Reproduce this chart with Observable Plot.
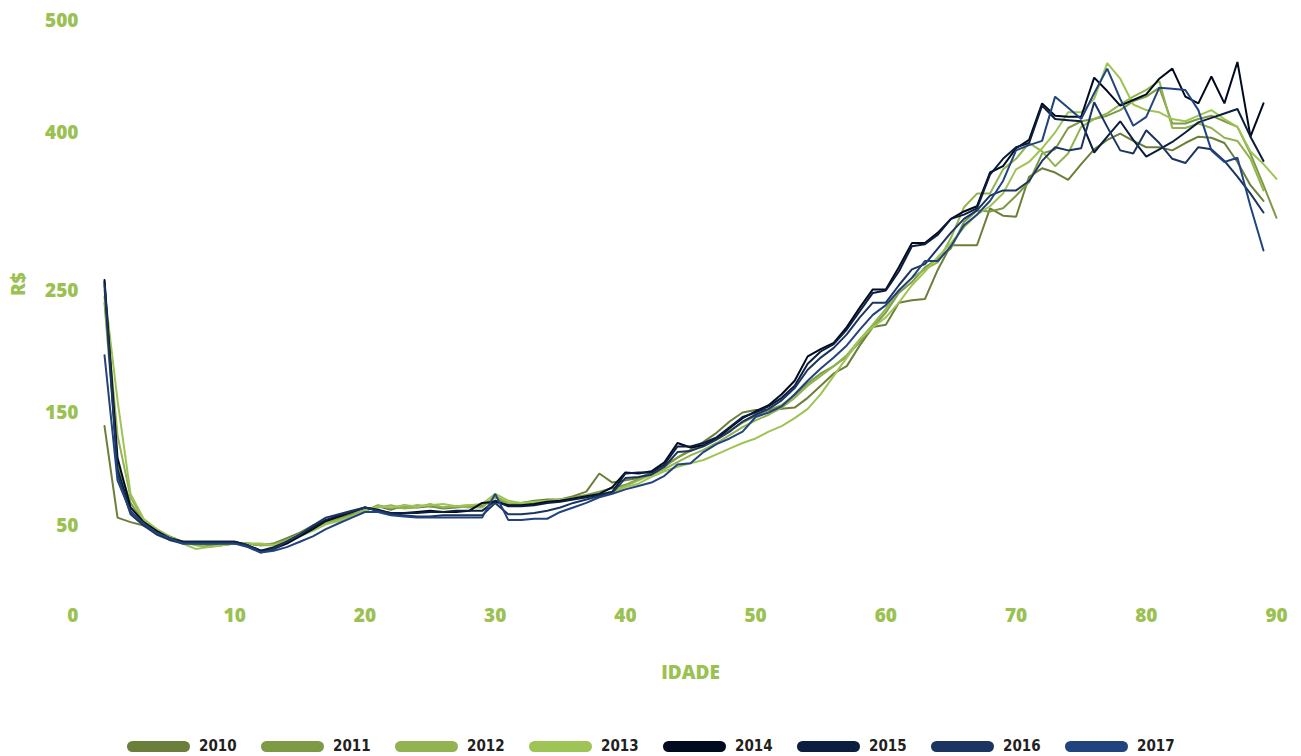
<!DOCTYPE html>
<html>
<head>
<meta charset="utf-8">
<script src="https://cdn.jsdelivr.net/npm/d3@7"></script>
<script src="https://cdn.jsdelivr.net/npm/@observablehq/plot@0.6"></script>
<style>
  html, body { margin: 0; padding: 0; background: #ffffff; }
  #chart svg { display: block; }
  #legend {
    position: relative; height: 56px; width: 1301px;
    font-family: "DejaVu Sans Condensed", "Liberation Sans Narrow", "Roboto", sans-serif;
    font-weight: bold; font-size: 15px; color: #231f20;
  }
  .item { position: absolute; top: 38px; display: flex; align-items: center; height: 16px; }
  .pill { width: 63px; height: 11px; border-radius: 6px; margin-right: 9px; }
</style>
</head>
<body>
<div id="chart"></div>
<div id="legend"></div>
<script>
const years = ["2010", "2011", "2012", "2013", "2014", "2015", "2016", "2017"];
const colors = ["#6B7F3A", "#7F9A45", "#92B350", "#9EC455", "#000A1E", "#0B1E3F", "#1C3560", "#21447F"];
const xTicks = [10, 20, 30, 40, 50, 60, 70, 80, 90];
const yTicks = [0, 50, 150, 250, 400, 500];
// relative vertical position of each y tick on the (non-uniform) original axis, 0..500
const yTickHeights = [0, 75.6, 170.6, 273.1, 405.9, 500];

// Values by age (index = age in years), R$
const v2010 = [138,57,53,50,46,42,41,40,40,40,40,
  40,39,40,43,46,50,54,57,60,63,
  67,64,68,66,67,65,66,67,68,72,
  69,70,72,73,73,76,80,96,88,90,
  92,97,103,110,117,124,132,142,150,152,
  152,153,154,162,172,182,188,205,220,222,
  240,242,243,270,293,293,293,328,321,320,
  358,366,362,355,370,384,393,399,392,386,
  386,383,390,396,395,390,372,350,335];
const v2011 = [240,105,70,53,47,44,41,40,39,39,40,
  40,39,40,42,45,49,53,56,59,63,
  68,65,66,68,67,66,67,68,67,75,
  69,68,70,71,73,75,77,80,83,86,
  91,96,102,110,116,121,127,134,141,147,
  152,156,164,174,182,188,196,208,220,232,
  248,258,272,280,290,315,326,325,328,340,
  353,380,384,404,410,412,415,420,428,432,
  440,408,408,412,415,410,405,380,350,319];
const v2012 = [245,130,75,55,48,44,41,39,38,39,40,
  40,39,39,42,45,48,52,55,59,64,
  66,68,65,66,69,66,67,66,66,76,
  70,69,70,71,72,74,76,78,80,85,
  90,95,100,106,112,117,123,130,137,143,
  148,154,162,172,180,188,197,210,222,235,
  250,262,270,277,300,329,342,342,365,375,
  390,382,368,380,405,412,417,425,432,438,
  446,404,404,408,404,395,392,375,345];
const v2013 = [250,160,78,56,48,43,40,37,38,39,40,
  40,40,39,41,44,47,51,54,58,63,
  67,66,68,67,68,69,67,68,69,78,
  72,70,71,72,73,74,75,77,79,84,
  87,93,98,102,105,108,113,118,123,127,
  133,138,145,153,165,180,195,210,220,228,
  240,255,268,282,295,310,322,330,342,365,
  372,385,400,418,418,430,462,448,425,420,
  418,412,410,415,420,412,405,382,370,356];
const v2014 = [260,110,66,53,47,43,41,41,41,41,41,
  39,36,37,40,44,48,54,58,62,66,
  64,61,61,62,63,62,62,63,70,71,
  68,68,69,71,72,74,76,78,84,97,
  96,98,106,123,119,121,127,136,145,151,
  156,165,176,196,202,207,220,236,251,251,
  272,295,295,305,318,325,330,362,368,385,
  393,426,415,414,414,449,437,424,429,434,
  448,457,432,426,450,426,463,396,426];
const v2015 = [258,100,63,51,46,43,41,41,41,41,41,
  39,36,38,41,45,49,55,59,62,66,
  63,61,61,61,62,62,63,63,63,72,
  67,67,68,70,71,73,75,77,80,96,
  97,97,104,120,120,123,128,137,146,150,
  155,162,172,190,200,206,218,233,248,250,
  268,292,294,303,318,322,328,360,375,386,
  390,424,412,411,410,381,396,410,393,377,
  384,391,400,409,413,417,421,396,373];
const v2016 = [255,95,60,50,45,42,40,40,40,40,40,
  39,35,37,41,45,50,57,60,63,66,
  63,60,59,58,58,59,59,59,59,70,
  60,60,61,63,66,70,73,76,79,92,
  93,95,102,115,116,120,126,133,142,148,
  153,160,170,185,195,203,214,228,240,240,
  255,270,275,290,305,318,326,340,345,345,
  354,373,386,383,385,427,405,383,380,402,
  390,375,371,386,384,373,358,342,324];
const v2017 = [197,90,62,52,46,43,40,40,40,40,40,
  38,35,36,38,41,44,48,52,57,62,
  62,59,58,57,57,57,57,57,57,78,
  55,55,56,56,62,66,70,75,78,82,
  85,88,94,104,105,115,122,127,133,146,
  150,155,165,176,186,195,205,218,230,238,
  250,262,278,278,292,312,322,335,354,383,
  388,392,432,422,412,435,457,430,406,414,
  440,439,438,420,383,372,376,330,288];

const series = [v2010, v2011, v2012, v2013, v2014, v2015, v2016, v2017];
const rows = series.flatMap((vals, s) => vals.map((value, age) => ({year: years[s], age, value})));

// piecewise mapping reproducing the original axis' uneven tick spacing
const warp = d3.scaleLinear().domain(yTicks).range(yTickHeights);

const green = "#9BC153";
const chart = Plot.plot({
  width: 1301,
  height: 700,
  marginLeft: 104,
  marginRight: 25,
  marginTop: 20,
  marginBottom: 95,
  style: {fontFamily: "'Open Sans', sans-serif", fontWeight: 800, fontSize: "19px", color: green, background: "#ffffff"},
  x: {domain: [0, 90], range: [104, 1276]},
  y: {transform: warp, domain: [0, 500], range: [615, 20]},
  color: {domain: years, range: colors},
  marks: [
    Plot.axisX({ticks: xTicks, tickSize: 0, tickPadding: 3, label: null, fill: green}),
    Plot.axisY({ticks: yTickHeights, tickFormat: h => String(yTicks[yTickHeights.indexOf(h)]), tickSize: 0, tickPadding: 26, label: null, fill: green}),
    Plot.line(rows, {x: "age", y: "value", z: "year", stroke: "year", strokeWidth: 2, strokeLinejoin: "miter"}),
    Plot.text(["IDADE"], {frameAnchor: "bottom", dy: 73, text: d => d, fill: green, fontSize: 19, fontWeight: 800}),
    Plot.text(["R$"], {frameAnchor: "left", dx: -86, dy: -17, rotate: -90, text: d => d, fill: green, fontSize: 19, fontWeight: 800})
  ]
});
document.getElementById("chart").appendChild(chart);

const legend = document.getElementById("legend");
years.forEach((y, i) => {
  const item = document.createElement("div");
  item.className = "item";
  item.style.left = (127 + i * 134) + "px";
  const pill = document.createElement("span");
  pill.className = "pill";
  pill.style.background = colors[i];
  const label = document.createElement("span");
  label.textContent = y;
  item.appendChild(pill);
  item.appendChild(label);
  legend.appendChild(item);
});
</script>
</body>
</html>
